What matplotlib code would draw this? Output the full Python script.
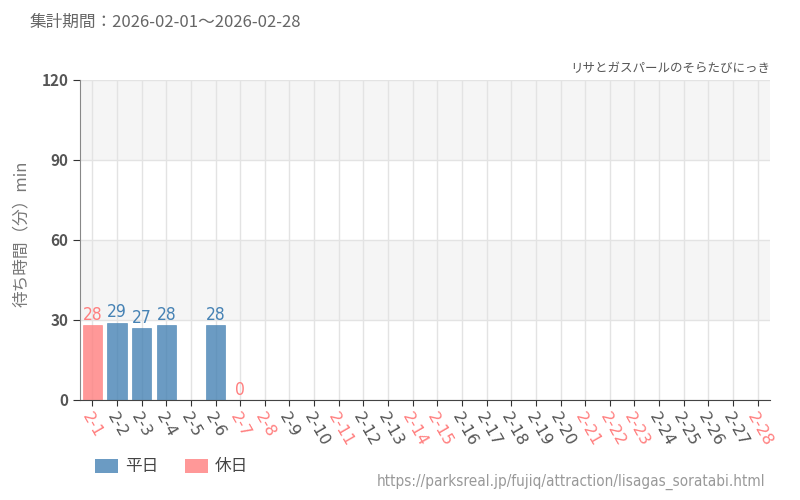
import matplotlib
matplotlib.use("Agg")
import matplotlib.pyplot as plt
from matplotlib.patches import Patch
import numpy as np

plt.rcParams['font.family'] = ['Noto Sans CJK JP', 'DejaVu Sans']

days = ['2-%d' % d for d in range(1, 29)]
holidays = ['2-1', '2-7', '2-8', '2-11', '2-14', '2-15', '2-21', '2-22', '2-23', '2-28']
waits = [28, 29, 27, 28, None, 28, 0] + [None] * 21

blue = '#4682b4'
red = '#ff7f7f'

fig = plt.figure(figsize=(8, 5), dpi=100)
ax = fig.add_axes([0.1, 0.2, 0.8625, 0.64])

x = np.arange(len(days))
ax.set_xlim(-0.5, len(days) - 0.5)
ax.set_ylim(0, 120)

# bands
for lo, hi in [(30, 60), (90, 120)]:
    ax.axhspan(lo, hi, color='#f5f5f5', zorder=0, lw=0)
ax.set_axisbelow(True)
ax.grid(True, color='#e3e3e3', lw=1)

for i, (d, v) in enumerate(zip(days, waits)):
    if v is None:
        continue
    c = red if d in holidays else blue
    ax.bar(i, v, width=0.78, color=c, alpha=0.8, zorder=2, edgecolor=c, lw=0.5)
    ax.text(i, v + 0.5, str(v), ha='center', va='bottom', color=c, fontsize=12.5,
            family='DejaVu Sans', fontstretch='condensed', zorder=3)

ax.set_yticks([0, 30, 60, 90, 120])
ax.tick_params(axis='y', labelsize=11, labelcolor='#555555', colors='#333333', length=5)
for t in ax.get_yticklabels():
    t.set_fontweight('bold')
ax.set_xticks(x)
ax.set_xticklabels(days, rotation=-60, ha='left', rotation_mode='anchor', fontsize=11.5,
                   family=['DejaVu Sans'])
ax.tick_params(axis='x', length=4, colors='#333333')
for t, d in zip(ax.get_xticklabels(), days):
    t.set_color(red if d in holidays else '#555555')

for s in ['top', 'right']:
    ax.spines[s].set_visible(False)
ax.spines['left'].set_color('#888888')
ax.spines['bottom'].set_color('#444444')

ax.set_ylabel('待ち時間（分）min', fontsize=12, color='#777777')
ax.yaxis.set_label_coords(-50 / 690, 0.52)

fig.text(30 / 800, 1 - 22 / 500, '集計期間：2026-02-01～2026-02-28', fontsize=12,
         color='#666666', va='center', ha='left')
fig.text(770 / 800, 1 - 68 / 500, 'リサとガスパールのそらたびにっき', fontsize=9,
         color='#555555', va='center', ha='right')
fig.text(765 / 800, 1 - 482 / 500, 'https://parksreal.jp/fujiq/attraction/lisagas_soratabi.html',
         fontsize=11, color='#999999', va='center', ha='right',
         family='DejaVu Sans', fontstretch='condensed')

handles = [Patch(facecolor=blue, alpha=0.8, label='平日'),
           Patch(facecolor=red, alpha=0.8, label='休日')]
fig.legend(handles=handles, loc='center left', bbox_to_anchor=(80 / 800, 1 - 467 / 500),
           ncol=2, frameon=False, fontsize=12, handlelength=1.4, handleheight=0.9,
           columnspacing=1.6, handletextpad=0.4, labelcolor='#444444')

fig.savefig('out.png', dpi=100)
